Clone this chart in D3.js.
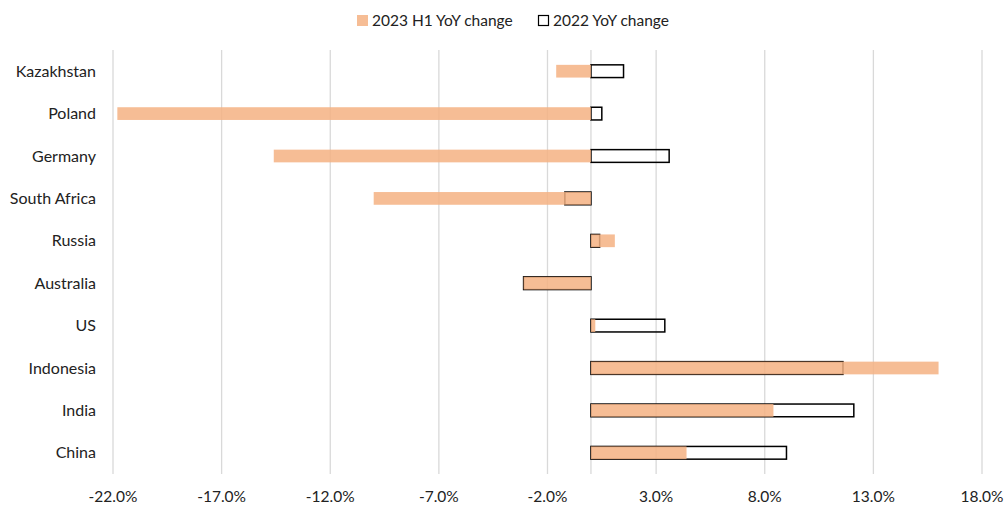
<!DOCTYPE html>
<html>
<head>
<meta charset="utf-8">
<script src="https://cdn.jsdelivr.net/npm/d3@7"></script>
<style>
  body { margin: 0; background: #fff; }
  text { font-family: Lato, "Open Sans", sans-serif; fill: #222; }
</style>
</head>
<body>
<svg width="1005" height="505"></svg>
<script>
let width = 1005,
    height = 505;

let countries = ["Kazakhstan", "Poland", "Germany", "South Africa", "Russia",
                 "Australia", "US", "Indonesia", "India", "China"];
let h1_2023 = [-1.6, -21.8, -14.6, -10.0, 1.1, -3.1, 0.2, 16.0, 8.4, 4.4];
let fy2022 = [1.5, 0.5, 3.6, -1.2, 0.4, -3.1, 3.4, 11.6, 12.1, 9.0];
let tickValues = [-22, -17, -12, -7, -2, 3, 8, 13, 18];

let margin = {top: 50, right: 23, bottom: 31, left: 113};

let svg = d3.select("svg");

let x = d3.scaleLinear()
    .domain([-22, 18])
    .range([margin.left, width - margin.right]);

let y = d3.scaleBand()
    .domain(countries)
    .range([margin.top, height - margin.bottom])
    .paddingInner(0.7)
    .paddingOuter(0.35);

// vertical gridlines
svg.append("g")
    .selectAll("line")
    .data(tickValues)
    .join("line")
    .attr("x1", d => x(d))
    .attr("x2", d => x(d))
    .attr("y1", margin.top)
    .attr("y2", height - margin.bottom)
    .attr("stroke", "#d9d9d9")
    .attr("stroke-width", 1.3);

// zero axis line
svg.append("line")
    .attr("x1", x(0))
    .attr("x2", x(0))
    .attr("y1", margin.top)
    .attr("y2", height - margin.bottom)
    .attr("stroke", "#d9d9d9")
    .attr("stroke-width", 1.3);

// 2022 outline bars (underneath)
svg.append("g")
    .selectAll("rect")
    .data(countries)
    .join("rect")
    .attr("x", (d, i) => x(Math.min(0, fy2022[i])))
    .attr("y", d => y(d))
    .attr("width", (d, i) => Math.abs(x(fy2022[i]) - x(0)))
    .attr("height", y.bandwidth())
    .attr("fill", "none")
    .attr("stroke", "#000")
    .attr("stroke-width", 1.5);

// 2023 H1 filled bars (semi-transparent, on top)
svg.append("g")
    .selectAll("rect")
    .data(countries)
    .join("rect")
    .attr("x", (d, i) => x(Math.min(0, h1_2023[i])))
    .attr("y", d => y(d))
    .attr("width", (d, i) => Math.abs(x(h1_2023[i]) - x(0)))
    .attr("height", y.bandwidth())
    .attr("fill", "#f4b183")
    .attr("fill-opacity", 0.85);

// category labels
svg.append("g")
    .selectAll("text")
    .data(countries)
    .join("text")
    .attr("x", 96)
    .attr("y", d => y(d) + y.bandwidth() / 2)
    .attr("dy", "0.35em")
    .attr("text-anchor", "end")
    .attr("font-size", 16)
    .text(d => d);

// x tick labels
svg.append("g")
    .selectAll("text")
    .data(tickValues)
    .join("text")
    .attr("x", d => x(d))
    .attr("y", 502)
    .attr("text-anchor", "middle")
    .attr("font-size", 15.5)
    .text(d => d.toFixed(1) + "%");

// legend
let legend = svg.append("g");
legend.append("rect")
    .attr("x", 357).attr("y", 15)
    .attr("width", 11).attr("height", 11)
    .attr("fill", "#f4b183").attr("fill-opacity", 0.85);
legend.append("text")
    .attr("x", 372).attr("y", 26)
    .attr("font-size", 15.5)
    .text("2023 H1 YoY change");
legend.append("rect")
    .attr("x", 538.5).attr("y", 15.5)
    .attr("width", 10).attr("height", 10)
    .attr("fill", "none").attr("stroke", "#000").attr("stroke-width", 1.2);
legend.append("text")
    .attr("x", 553).attr("y", 26)
    .attr("font-size", 15.5)
    .text("2022 YoY change");
</script>
</body>
</html>
